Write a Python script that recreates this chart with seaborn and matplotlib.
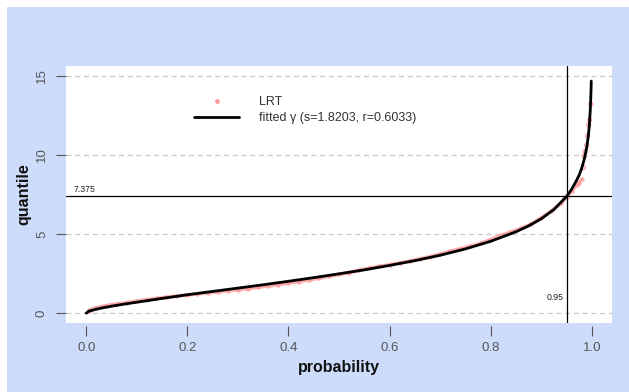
import numpy as np
import pandas as pd
import matplotlib
matplotlib.use("Agg")
import matplotlib.pyplot as plt
from matplotlib.lines import Line2D
from matplotlib.patches import Rectangle
import seaborn as sns

# ---- data ----
fit_prob = [0.0, 0.005, 0.01, 0.02, 0.03, 0.05, 0.075, 0.1, 0.15, 0.2, 0.25, 0.3,
            0.35, 0.4, 0.45, 0.5, 0.55, 0.6, 0.65, 0.7, 0.75, 0.8, 0.85, 0.875,
            0.9, 0.925, 0.95, 0.96, 0.97, 0.975, 0.98, 0.985, 0.99, 0.993, 0.995,
            0.997, 0.998, 0.999]
fit_quant = [0.02, 0.14, 0.19, 0.27, 0.34, 0.46, 0.59, 0.71, 0.95, 1.18, 1.39, 1.60,
             1.81, 2.03, 2.26, 2.50, 2.75, 3.03, 3.33, 3.67, 4.07, 4.55, 5.15, 5.52,
             5.97, 6.55, 7.37, 7.82, 8.40, 8.72, 9.15, 9.70, 10.47, 11.15, 11.80,
             12.80, 13.55, 14.65]

lrt_prob = [0.005, 0.01, 0.02, 0.03, 0.04, 0.05, 0.06, 0.08, 0.10, 0.12, 0.14, 0.16,
            0.18, 0.20, 0.22, 0.24, 0.26, 0.28, 0.30, 0.32, 0.34, 0.36, 0.38, 0.40,
            0.42, 0.44, 0.46, 0.48, 0.50, 0.52, 0.54, 0.56, 0.58, 0.60, 0.62, 0.64,
            0.66, 0.68, 0.70, 0.72, 0.74, 0.76, 0.78, 0.80, 0.82, 0.84, 0.86, 0.88,
            0.90, 0.92, 0.94, 0.95, 0.96, 0.97, 0.975, 0.98]
lrt_quant = [0.18, 0.25, 0.36, 0.43, 0.50, 0.55, 0.60, 0.68, 0.78, 0.87, 0.95, 1.03,
             1.10, 1.17, 1.24, 1.30, 1.37, 1.44, 1.50, 1.57, 1.66, 1.74, 1.82, 1.92,
             2.01, 2.12, 2.22, 2.34, 2.46, 2.58, 2.72, 2.86, 2.97, 3.07, 3.18, 3.31,
             3.44, 3.58, 3.74, 3.92, 4.08, 4.24, 4.42, 4.66, 4.92, 5.14, 5.36, 5.64,
             6.02, 6.46, 6.98, 7.37, 7.72, 8.10, 8.25, 8.45]
# sparse upper-tail LRT points (drawn as separate dots)
tail_prob = [0.983, 0.985, 0.987, 0.99, 0.992, 0.994, 0.996, 0.998]
tail_quant = [9.2, 9.9, 10.2, 10.6, 11.2, 11.9, 12.2, 13.2]

x_ticks = [0.0, 0.2, 0.4, 0.6, 0.8, 1.0]
x_tick_labels = ["0.0", "0.2", "0.4", "0.6", "0.8", "1.0"]
y_ticks = [0, 5, 10, 15]
cut_prob = 0.95
cut_quant = 7.375
legend_labels = ["LRT", "fitted \u03b3 (s=1.8203, r=0.6033)"]

fit_df = pd.DataFrame({"probability": fit_prob, "quantile": fit_quant})
lrt_df = pd.DataFrame({"probability": lrt_prob, "quantile": lrt_quant})
tail_df = pd.DataFrame({"probability": tail_prob, "quantile": tail_quant})

sns.set_style("white")
plt.rcParams["font.family"] = ["Liberation Sans", "DejaVu Sans"]

W, H = 629, 392
fig = plt.figure(figsize=(W / 100, H / 100), dpi=100, facecolor="white")
bg = "#cddcfb"
fig.patches.append(Rectangle((7 / W, 0), 1 - 7 / W, 1 - 7 / H,
                             transform=fig.transFigure, facecolor=bg,
                             edgecolor="none", zorder=-10))

ax = fig.add_axes([66 / W, 1 - 323 / H, (612 - 66) / W, (323 - 66) / H])
ax.set_facecolor("white")

# grid
for yv in y_ticks:
    ax.axhline(yv, color="#c8c8c8", lw=0.9, ls=(0, (4, 3)), zorder=0)

pink = "#ff9a9a"
# LRT band
sns.lineplot(data=lrt_df, x="probability", y="quantile", ax=ax, color=pink,
             lw=2.6, alpha=0.8, marker="o", markersize=3.2, markeredgewidth=0,
             sort=True, zorder=2, legend=False)
sns.scatterplot(data=tail_df, x="probability", y="quantile", ax=ax, color="none",
                edgecolor=pink, s=9, linewidth=0.8, zorder=2, legend=False)
# fitted gamma curve
sns.lineplot(data=fit_df, x="probability", y="quantile", ax=ax, color="black",
             lw=2.0, zorder=3, legend=False)

ax.axhline(cut_quant, color="black", lw=0.9, zorder=4)
ax.axvline(cut_prob, color="black", lw=0.9, zorder=4)
ax.text(-0.024, cut_quant + 0.15, f"{cut_quant}", fontsize=6.3, color="#222222",
        ha="left", va="bottom")
ax.text(cut_prob - 0.006, 1.0, f"{cut_prob}", fontsize=6.3, color="#222222",
        ha="right", va="center")

ax.set_xlim(-0.04, 1.04)
ax.set_ylim(-0.6, 15.6)
for s in ax.spines.values():
    s.set_visible(False)
ax.spines["bottom"].set_position(("outward", 2))

ax.set_xticks(x_ticks)
ax.set_xticklabels(x_tick_labels)
ax.set_yticks(y_ticks)
ax.tick_params(axis="both", which="both", direction="out", length=7, width=0.8,
               colors="#555555", labelsize=9.5, bottom=True, left=True)
ax.tick_params(axis="y", pad=6)
ax.tick_params(axis="x", pad=5)
for lab in ax.get_yticklabels():
    lab.set_rotation(90)
    lab.set_va("center")

ax.set_xlabel("probability", fontsize=11.5, fontweight="bold", color="#111111",
              labelpad=4)
ax.set_ylabel("quantile", fontsize=11.5, fontweight="bold", color="#111111",
              labelpad=3)

handles = [Line2D([], [], color=pink, marker="o", ls="none", markersize=3.5,
                  markeredgewidth=0),
           Line2D([], [], color="black", lw=2.0)]
ax.legend(handles, legend_labels, loc="upper left", frameon=False,
          bbox_to_anchor=(188 / W, 1 - 90 / H), bbox_transform=fig.transFigure,
          fontsize=9, handlelength=3.6, handletextpad=1.6, labelspacing=0.3,
          borderpad=0, labelcolor="#333333")

fig.savefig("out.png", dpi=100, facecolor="white")
